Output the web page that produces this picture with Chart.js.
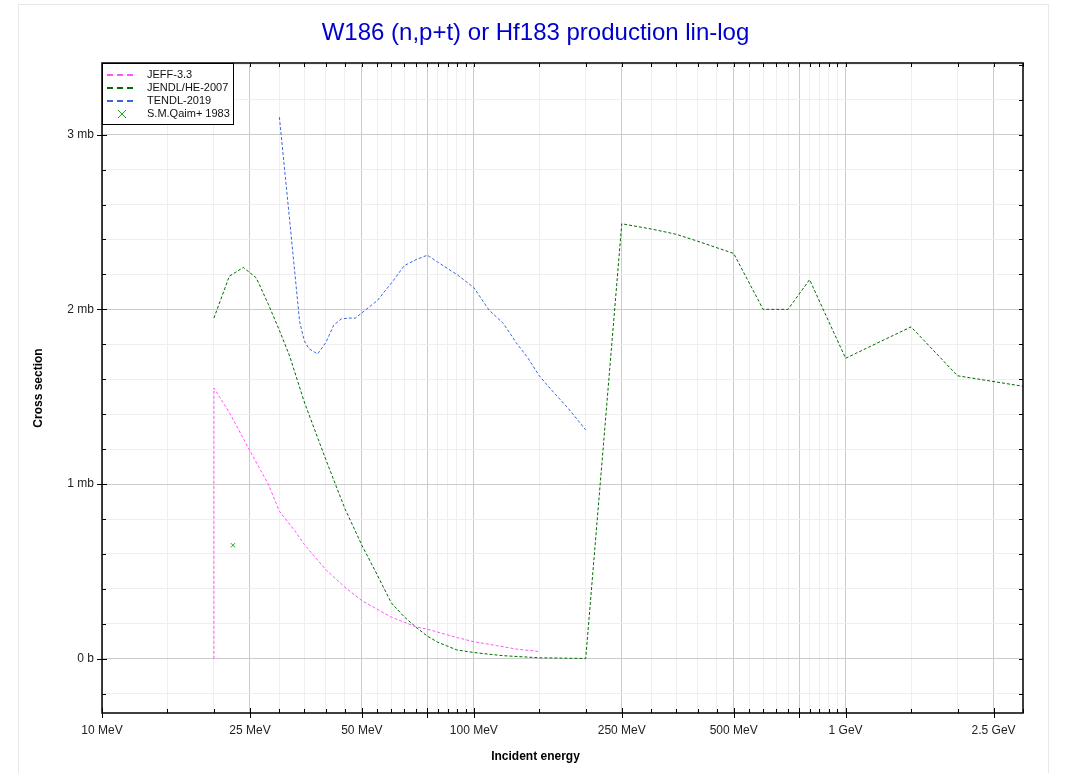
<!DOCTYPE html>
<html>
<head>
<meta charset="utf-8">
<script src="https://cdn.jsdelivr.net/npm/chart.js@4.4.1/dist/chart.umd.min.js"></script>
<style>
  body { margin: 0; background: #fff; }
  #panel { position: absolute; left: 18px; top: 4px; width: 1029px; height: 800px; border: 1px solid #e8e8e8; }
  #c { position: absolute; left: 0; top: 0; }
</style>
</head>
<body>
<div id="panel"></div>
<canvas id="c" width="1071" height="773"></canvas>
<script>
// incident energy in MeV, cross section in mb
var jeffE = [20, 20, 22, 25, 28, 30, 33, 35, 40, 45, 50, 60, 70, 75, 80, 90, 100, 115, 130, 150];
var jeffXs = [0, 1.55, 1.41, 1.19, 1.0, 0.845, 0.733, 0.655, 0.51, 0.41, 0.333, 0.238, 0.183, 0.17, 0.153, 0.122, 0.098, 0.076, 0.056, 0.042];

var jendlE = [20, 22, 24, 26, 28, 30, 32, 35, 40, 45, 50, 55, 60, 65, 70, 75, 80, 90, 100, 120, 150, 200, 250, 300, 350, 400, 500, 600, 700, 800, 1000, 1500, 2000, 3000];
var jendlXs = [1.95, 2.19, 2.24, 2.18, 2.03, 1.88, 1.73, 1.47, 1.14, 0.86, 0.65, 0.48, 0.32, 0.24, 0.18, 0.13, 0.095, 0.051, 0.036, 0.018, 0.006, 0.002, 2.49, 2.46, 2.43, 2.39, 2.32, 2.0, 2.0, 2.17, 1.72, 1.9, 1.62, 1.56];

var tendlE = [30, 32, 34, 35, 36, 38, 40, 42, 44, 46, 48, 50, 55, 60, 65, 70, 75, 80, 90, 100, 110, 120, 130, 140, 150, 160, 180, 200];
var tendlXs = [3.1, 2.5, 1.93, 1.82, 1.775, 1.745, 1.81, 1.91, 1.945, 1.95, 1.95, 1.98, 2.05, 2.15, 2.25, 2.285, 2.31, 2.27, 2.2, 2.125, 1.995, 1.92, 1.81, 1.72, 1.62, 1.55, 1.43, 1.31];

var qaimE = [22.5];
var qaimXs = [0.65];

var xTickValues = [10, 25, 50, 100, 250, 500, 1000, 2500];
var xTickLabels = ['10 MeV', '25 MeV', '50 MeV', '100 MeV', '250 MeV', '500 MeV', '1 GeV', '2.5 GeV'];
var xMajorUnlabelled = [75, 750];
var yTickValues = [0, 1, 2, 3];
var yTickLabels = ['0 b', '1 mb', '2 mb', '3 mb'];

function pts(e, v) {
  return e.map(function(x, i) { return {x: x, y: v[i]}; });
}

// grid lines: every 5 MeV below 100, 50 MeV below 1 GeV, 500 MeV above
var xGrid = [];
for (var i = 10; i < 100; i += 5) xGrid.push(i);
for (var i = 100; i < 1000; i += 50) xGrid.push(i);
for (var i = 1000; i <= 3000; i += 500) xGrid.push(i);
var yGrid = [];
for (var i = -1; i <= 17; i++) yGrid.push(Math.round(i * 2) / 10);

function isMajorX(v) { return xTickValues.indexOf(v) >= 0 || xMajorUnlabelled.indexOf(v) >= 0; }
function isMajorY(v) { return yTickValues.indexOf(v) >= 0; }

var fontFam = '"Liberation Sans", Arial, sans-serif';

var frameTicks = {
  id: 'frameTicks',
  afterDatasetsDraw: function(chart) {
    var ctx = chart.ctx, a = chart.chartArea;
    var xs = chart.scales.x, ys = chart.scales.y;
    ctx.save();
    ctx.strokeStyle = '#000';
    ctx.lineWidth = 1;
    ctx.beginPath();
    xs.ticks.forEach(function(t) {
      var px = Math.round(xs.getPixelForValue(t.value)) + 0.5;
      if (isMajorX(t.value)) { ctx.moveTo(px, a.bottom + 5); ctx.lineTo(px, a.bottom - 5); }
      else { ctx.moveTo(px, a.bottom); ctx.lineTo(px, a.bottom - 4); }
      ctx.moveTo(px, a.top); ctx.lineTo(px, a.top + 4);
    });
    ys.ticks.forEach(function(t) {
      var py = Math.round(ys.getPixelForValue(t.value)) + 0.5;
      if (isMajorY(t.value)) { ctx.moveTo(a.left - 5, py); ctx.lineTo(a.left + 5, py); }
      else { ctx.moveTo(a.left, py); ctx.lineTo(a.left + 4, py); }
      ctx.moveTo(a.right, py); ctx.lineTo(a.right - 4, py);
    });
    ctx.stroke();
    ctx.lineWidth = 1.5;
    ctx.strokeRect(a.left, a.top, a.right - a.left, a.bottom - a.top);

    // legend box in the upper left corner
    var bx = a.left, by = a.top, bw = 131, bh = 61;
    ctx.fillStyle = '#fff';
    ctx.fillRect(bx, by, bw, bh);
    ctx.lineWidth = 1;
    ctx.strokeRect(bx + 0.5, by + 0.5, bw, bh);
    ctx.font = '11px ' + fontFam;
    ctx.textBaseline = 'middle';
    chart.data.datasets.forEach(function(ds, k) {
      var ry = by + 12 + k * 13;
      ctx.strokeStyle = ds.borderColor;
      if (ds.showLine === false) {
        ctx.lineWidth = 1;
        ctx.setLineDash([]);
        ctx.beginPath();
        ctx.moveTo(bx + 16, ry - 4); ctx.lineTo(bx + 24, ry + 4);
        ctx.moveTo(bx + 24, ry - 4); ctx.lineTo(bx + 16, ry + 4);
        ctx.stroke();
      } else {
        ctx.lineWidth = 2;
        ctx.setLineDash([6, 4]);
        ctx.beginPath();
        ctx.moveTo(bx + 5, ry); ctx.lineTo(bx + 31, ry);
        ctx.stroke();
      }
      ctx.setLineDash([]);
      ctx.fillStyle = '#111';
      ctx.fillText(ds.label, bx + 45, ry);
    });
    ctx.restore();
  }
};

var chart = new Chart(document.getElementById('c'), {
  type: 'line',
  data: {
    datasets: [
      { label: 'JEFF-3.3', data: pts(jeffE, jeffXs), borderColor: '#ff55ff', borderWidth: 1, borderDash: [3, 2], pointRadius: 0, fill: false },
      { label: 'JENDL/HE-2007', data: pts(jendlE, jendlXs), borderColor: '#006a00', borderWidth: 1, borderDash: [3, 2], pointRadius: 0, fill: false },
      { label: 'TENDL-2019', data: pts(tendlE, tendlXs), borderColor: '#3a66dd', borderWidth: 1, borderDash: [3, 2], pointRadius: 0, fill: false },
      { label: 'S.M.Qaim+ 1983', data: pts(qaimE, qaimXs), borderColor: '#1aa81a', backgroundColor: '#1aa81a', showLine: false, pointStyle: 'crossRot', pointRadius: 3, pointBorderWidth: 1 }
    ]
  },
  options: {
    responsive: false,
    devicePixelRatio: 1,
    animation: false,
    layout: { padding: 0 },
    plugins: {
      legend: { display: false },
      tooltip: { enabled: false },
      title: {
        display: true,
        text: 'W186 (n,p+t) or Hf183 production lin-log',
        color: '#0000cc',
        font: { family: fontFam, size: 24, weight: 'normal' },
        padding: { top: 19, bottom: 15.2 }
      },
      subtitle: {
        display: true,
        position: 'bottom',
        text: 'Incident energy',
        color: '#000',
        font: { family: fontFam, size: 12, weight: 'bold' },
        padding: { top: 6, bottom: 9 }
      }
    },
    scales: {
      x: {
        type: 'logarithmic',
        min: 10,
        max: 3000,
        afterBuildTicks: function(s) {
          s.ticks = xGrid.map(function(v) { return {value: v, major: isMajorX(v)}; });
        },
        afterFit: function(s) { s.height = 30.6; },
        ticks: {
          autoSkip: false,
          maxRotation: 0,
          padding: 10,
          color: '#222',
          font: { family: fontFam, size: 12 },
          callback: function(v) {
            var k = xTickValues.indexOf(v);
            return k >= 0 ? xTickLabels[k] : '';
          }
        },
        grid: {
          drawTicks: false,
          color: function(c) { return c.tick && isMajorX(c.tick.value) ? '#cccccc' : '#efefef'; }
        },
        border: { display: false }
      },
      y: {
        type: 'linear',
        min: -0.31,
        max: 3.41,
        afterBuildTicks: function(s) {
          s.ticks = yGrid.map(function(v) { return {value: v}; });
        },
        afterFit: function(s) { s.width = 102; },
        ticks: {
          autoSkip: false,
          padding: 8,
          color: '#222',
          font: { family: fontFam, size: 12 },
          callback: function(v) {
            var k = yTickValues.indexOf(v);
            return k >= 0 ? yTickLabels[k] : '';
          }
        },
        title: {
          display: true,
          text: 'Cross section',
          color: '#000',
          font: { family: fontFam, size: 12, weight: 'bold' },
          padding: { top: 31, bottom: 0 }
        },
        grid: {
          drawTicks: false,
          color: function(c) { return c.tick && isMajorY(c.tick.value) ? '#cccccc' : '#efefef'; }
        },
        border: { display: false }
      },
      yRight: {
        position: 'right',
        display: true,
        afterFit: function(s) { s.width = 48; },
        ticks: { display: false },
        grid: { display: false },
        border: { display: false }
      }
    }
  },
  plugins: [frameTicks]
});
</script>
</body>
</html>
